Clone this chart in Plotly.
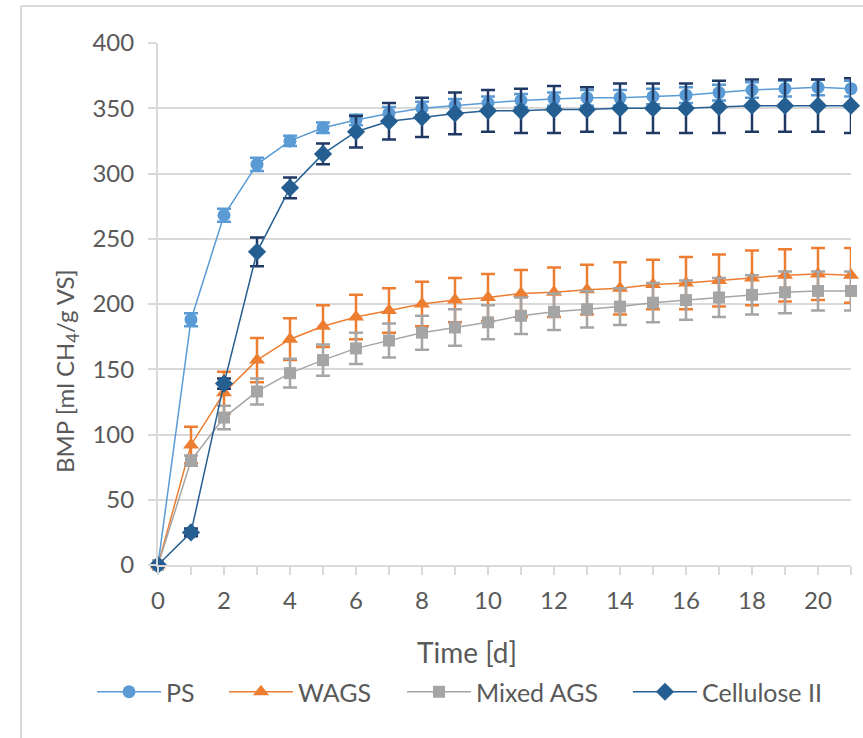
import plotly.graph_objects as go

days = [0, 1, 2, 3, 4, 5, 6, 7, 8, 9, 10, 11, 12, 13, 14, 15, 16, 17, 18, 19, 20, 21]
x_tick_vals = [0, 2, 4, 6, 8, 10, 12, 14, 16, 18, 20]
x_tick_labels = ["0", "2", "4", "6", "8", "10", "12", "14", "16", "18", "20"]

ps = [0, 188, 268, 307, 325, 335, 341, 346, 350, 352, 354, 356, 357, 358, 358, 359, 360, 362, 364, 365, 366, 365]
ps_err = [0, 5, 5, 5, 4, 4, 4, 5, 5, 5, 5, 5, 5, 6, 6, 6, 6, 6, 6, 6, 6, 6]

wags = [0, 92, 132, 157, 173, 183, 190, 195, 200, 203, 205, 208, 209, 211, 212, 215, 216, 218, 220, 222, 223, 222]
wags_err = [0, 14, 16, 17, 16, 16, 17, 17, 17, 17, 18, 18, 19, 19, 20, 19, 20, 20, 21, 20, 20, 21]

mixed = [0, 80, 113, 133, 147, 157, 166, 172, 178, 182, 186, 191, 194, 196, 198, 201, 203, 205, 207, 209, 210, 210]
mixed_err = [0, 4, 9, 10, 11, 12, 12, 13, 13, 14, 13, 14, 14, 14, 14, 15, 15, 15, 15, 16, 15, 15]

cell = [0, 25, 139, 240, 289, 315, 332, 340, 343, 346, 348, 348, 349, 349, 350, 350, 350, 351, 352, 352, 352, 352]
cell_err = [0, 3, 4, 11, 8, 8, 12, 14, 15, 16, 16, 17, 18, 17, 19, 19, 19, 20, 20, 20, 20, 21]

y_ticks = [0, 50, 100, 150, 200, 250, 300, 350, 400]

FONT = "Lato"
TXT = "#595959"
GRID = "#D9D9D9"

# name, values, errors, colour, error colour, symbol, size, legend entry width
series = [
    ("PS", ps, ps_err, "#5B9BD5", "#5B9BD5", "circle", 13, 53),
    ("WAGS", wags, wags_err, "#ED7D31", "#ED7D31", "triangle-up", 14, 99),
    ("Mixed AGS", mixed, mixed_err, "#A5A5A5", "#A5A5A5", "square", 12, 147),
    ("Cellulose II", cell, cell_err, "#255E91", "#1F3864", "diamond", 14, 125),
]

fig = go.Figure()
for name, vals, errs, col, ecol, sym, size, lw in series:
    fig.add_trace(go.Scatter(
        x=days, y=vals, name=name, mode="lines+markers",
        line=dict(color=col, width=1.5),
        marker=dict(symbol=sym, size=size, color=col, line=dict(width=0)),
        error_y=dict(type="data", array=errs, visible=True, color=ecol, thickness=2.5, width=7),
        cliponaxis=False, legendwidth=lw,
    ))

L, R, T, B = 158, 851, 43, 565
W, H = 863, 738
pw, ph = R - L, B - T

def px(xp):
    return (xp - L) / pw

def py(yp):
    return (B - yp) / ph

fig.update_layout(
    width=W, height=H,
    margin=dict(l=L, r=W - R, t=T, b=H - B, pad=0),
    paper_bgcolor="white", plot_bgcolor="white",
    font=dict(family=FONT, color=TXT, size=24),
    showlegend=True,
    legend=dict(orientation="h", x=px(92), xanchor="left", y=py(692), yanchor="middle",
                font=dict(size=25, color=TXT, family=FONT), itemwidth=64, bgcolor="rgba(0,0,0,0)"),
    xaxis=dict(range=[0, 21], tickmode="array", tickvals=x_tick_vals, ticktext=x_tick_labels,
               showgrid=False, zeroline=False, showline=True, linecolor=GRID, linewidth=2,
               ticks="outside", ticklen=8, tickwidth=2, tickcolor=GRID,
               minor=dict(ticks="outside", dtick=1, tick0=0, ticklen=8, tickwidth=2,
                          tickcolor=GRID, showgrid=False),
               tickfont=dict(size=24, color=TXT, family=FONT), ticklabelstandoff=5),
    yaxis=dict(range=[0, 400], tickmode="array", tickvals=y_ticks,
               showgrid=True, gridcolor=GRID, gridwidth=2, zeroline=False,
               showline=True, linecolor=GRID, linewidth=2,
               ticks="outside", ticklen=8, tickwidth=2, tickcolor=GRID,
               tickfont=dict(size=24, color=TXT, family=FONT), ticklabelstandoff=9),
    annotations=[
        dict(text="Time [d]", x=px(467), y=py(652), xref="paper", yref="paper",
             showarrow=False, font=dict(size=28, color=TXT, family=FONT), xanchor="center", yanchor="middle"),
        dict(text="BMP [ml CH<sub>4</sub>/g VS]", x=px(66), y=py(371), xref="paper", yref="paper",
             showarrow=False, textangle=-90, font=dict(size=24, color=TXT, family=FONT),
             xanchor="center", yanchor="middle"),
    ],
    shapes=[
        dict(type="line", xref="paper", yref="paper", x0=px(21), x1=px(21), y0=py(6), y1=py(745),
             line=dict(color=GRID, width=2)),
        dict(type="line", xref="paper", yref="paper", x0=px(21), x1=px(870), y0=py(6), y1=py(6),
             line=dict(color=GRID, width=2)),
    ],
)

fig.write_html("out.html", config={"displayModeBar": False},
               post_script="document.body.style.margin='0px';")
